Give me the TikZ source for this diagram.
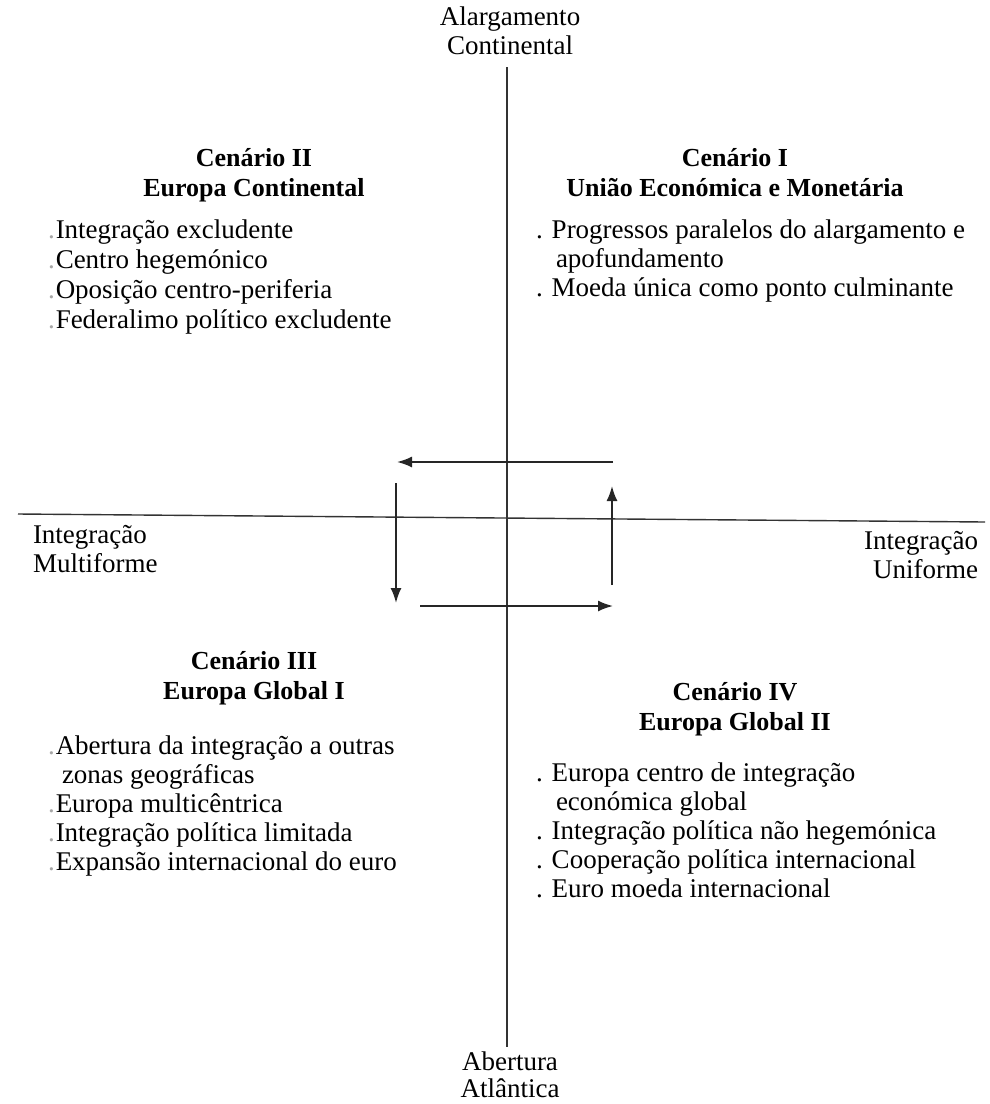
\documentclass[tikz,border=0pt]{standalone}
\usepackage{fontspec}
\setmainfont{Liberation Serif}
\usetikzlibrary{arrows.meta}
\begin{document}
\begin{tikzpicture}[x=1pt,y=-1pt,
  txt/.style={font=\fontsize{27}{30}\selectfont, inner sep=0pt, outer sep=0pt},
  txtb/.style={font=\fontsize{27}{28.8}\selectfont, inner sep=0pt, outer sep=0pt},
  lbl/.style={font=\fontsize{27}{29}\selectfont, inner sep=0pt, outer sep=0pt},
  lblb/.style={font=\fontsize{27}{27}\selectfont, inner sep=0pt, outer sep=0pt},
  head/.style={font=\fontsize{26}{30}\selectfont\bfseries, inner sep=0pt, align=center, anchor=base},
  axis/.style={line width=1.4pt, draw=black!80},
  flow/.style={line width=1.8pt, draw=black!85, -{Latex[length=15pt,width=11pt]}}
]
\useasboundingbox (0,0) rectangle (990,1104);
\newcommand{\gd}{{\color{black!35}.}\hspace{1pt}}
% axes
\coordinate (vt) at (507,67);
\coordinate (vb) at (507,1047);
\coordinate (hl) at (18,514);
\coordinate (hr) at (985,522);
\draw[axis] (vt) -- (vb);
\draw[axis] (hl) -- (hr);
% axis labels (anchor base = baseline of the last line)
\node[lbl, align=center, anchor=base] (top) at (510,54) {Alargamento\\Continental};
\node[lblb, align=center, anchor=base] (bot) at (510,1097) {Abertura\\Atlântica};
\node[lbl, align=left, anchor=base west] (lft) at (33,572) {Integração\\Multiforme};
\node[lbl, align=right, anchor=base east] (rgt) at (978,578) {Integração\\Uniforme};
% headings
\node[head] (h2) at (254,196) {Cenário II\\Europa Continental};
\node[head] (h1) at (735,196) {Cenário I\\União Económica e Monetária};
\node[head] (h3) at (254,699) {Cenário III\\Europa Global I};
\node[head] (h4) at (735,730) {Cenário IV\\Europa Global II};
% bullet lists
\node[txt, align=left, anchor=base west] (b2) at (48,328) {\gd Integração excludente\\\gd Centro hegemónico\\\gd Oposição centro-periferia\\\gd Federalimo político excludente};
\node[txtb, align=left, anchor=base west] (b1) at (536,296) {. Progressos paralelos do alargamento e\\\hspace*{20pt}apofundamento\\. Moeda única como ponto culminante};
\node[txtb, align=left, anchor=base west] (b3) at (48,870) {\gd Abertura da integração a outras\\\hspace*{14pt}zonas geográficas\\\gd Europa multicêntrica\\\gd Integração política limitada\\\gd Expansão internacional do euro};
\node[txtb, align=left, anchor=base west] (b4) at (536,897) {. Europa centro de integração\\\hspace*{20pt}económica global\\. Integração política não hegemónica\\. Cooperação política internacional\\. Euro moeda internacional};
% cycle arrows
\coordinate (a1) at (613,462);
\coordinate (a2) at (397,462);
\coordinate (a3) at (396,483);
\coordinate (a4) at (396,603);
\coordinate (a5) at (420,606);
\coordinate (a6) at (613,606);
\coordinate (a7) at (612,585);
\coordinate (a8) at (612,486);
\draw[flow] (a1) -- (a2);
\draw[flow] (a3) -- (a4);
\draw[flow] (a5) -- (a6);
\draw[flow] (a7) -- (a8);
\end{tikzpicture}
\end{document}
